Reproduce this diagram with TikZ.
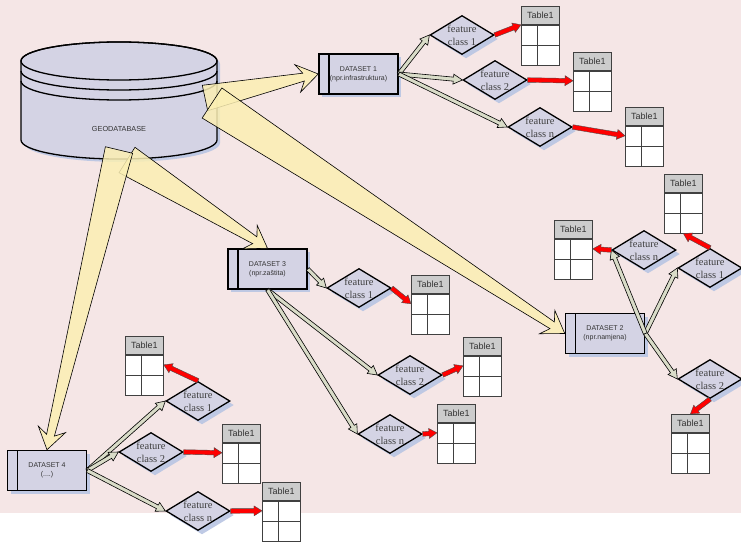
\documentclass[tikz,border=0pt]{standalone}
\usepackage{fontspec}
\setmainfont{Liberation Serif}
\setsansfont{Liberation Sans}
\usetikzlibrary{shapes.geometric,calc,shadows}

\definecolor{pozadina}{HTML}{F5E6E6}
\definecolor{lavanda}{HTML}{D4D3E4}
\definecolor{sjena}{HTML}{B9C5E3}
\definecolor{zuta}{HTML}{FBEFB3}
\definecolor{sivozelena}{HTML}{D9DCC8}
\definecolor{zaglavlje}{HTML}{CCCCCC}

\tikzset{
  dataset/.style={draw, line width=1.5pt, fill=lavanda, minimum width=79pt,
    minimum height=40pt, inner sep=0pt, align=center, text=black!80,
    font=\sffamily\fontsize{7}{9.3}\selectfont,
    drop shadow={shadow xshift=3pt, shadow yshift=-3pt, fill=sjena, opacity=.9},
    path picture={\draw[line width=1.5pt]
      ([xshift=10pt]path picture bounding box.north west) --
      ([xshift=10pt]path picture bounding box.south west);}},
  fclass/.style={diamond, draw, line width=1.3pt, fill=lavanda, minimum width=64pt,
    minimum height=39pt, inner sep=0pt,
    drop shadow={shadow xshift=4pt, shadow yshift=-4pt, fill=sjena, opacity=.9}},
  fctext/.style={font=\fontsize{10.5}{13}\selectfont, text=black!75, align=center},
  tabhead/.style={draw=black!75, line width=.8pt, fill=zaglavlje, minimum width=38pt,
    minimum height=18pt, inner sep=0pt, text=black!80,
    font=\sffamily\fontsize{9}{10}\selectfont},
  tabbody/.style={draw=black!75, line width=.8pt, fill=white, minimum width=38pt,
    minimum height=40pt, inner sep=0pt},
  yellowarrow/.style={draw, line width=.6pt, fill=zuta, fill opacity=.85},
  grayarrow/.style={draw, line width=.6pt, fill=sivozelena},
  redarrow/.style={draw=black!70, line width=.4pt, fill=red},
}

% tablica: ime, gornji lijevi kut
\newcommand\tabela[2]{%
  \node[tabhead, anchor=north west] (#1) at (#2) {Table1};
  \node[tabbody, anchor=north] (#1b) at (#1.south) {};
  \draw[draw=black!75, line width=.8pt] (#1b.west) -- (#1b.east)
    ([xshift=16pt]#1b.north west) -- ([xshift=16pt]#1b.south west);
  \coordinate (#1w) at ($(#1b.north west)+(0,10)$);
  \coordinate (#1e) at ($(#1b.north east)+(0,10)$);
}

% strelica: stil, od, do, pola osovine, pola glave, duzina glave
\newcommand\blok[6]{%
  \coordinate (vrat) at ($(#3)!#6!(#2)$);
  \draw[#1] ($(#2)!#4!90:(#3)$) -- ($(vrat)!#4!90:(#3)$) -- ($(vrat)!#5!90:(#3)$)
    -- (#3) -- ($(vrat)!#5!-90:(#3)$) -- ($(vrat)!#4!-90:(#3)$)
    -- ($(#2)!#4!-90:(#3)$) -- cycle;
}
\newcommand\sivastr[2]{\blok{grayarrow}{#1}{#2}{2pt}{5pt}{9pt}}
\newcommand\crvenastr[2]{\blok{redarrow}{#1}{#2}{2.3pt}{5pt}{8pt}}

% debela zuta strelica: od, do, pola sirine baze
\newcommand\zutastr[3]{%
  \coordinate (vrat) at ($(#2)!15pt!(#1)$);
  \coordinate (krilo) at ($(#2)!21pt!(#1)$);
  \draw[yellowarrow] ($(#1)!#3!90:(#2)$) -- ($(vrat)!4pt!90:(#2)$)
    -- ($(krilo)!14pt!90:(#2)$) -- (#2) -- ($(krilo)!14pt!-90:(#2)$)
    -- ($(vrat)!4pt!-90:(#2)$) -- ($(#1)!#3!-90:(#2)$) -- cycle;
}

\begin{document}
\begin{tikzpicture}[x=1pt,y=-1pt]
\useasboundingbox (0,0) rectangle (741,541);
\fill[white] (0,0) rectangle (741,541);
\fill[pozadina] (0,0) rectangle (741,513);

% geodatabase
\fill[sjena, opacity=.9, shift={(3,3)}] (21,61) -- (21,140)
  arc[start angle=180, end angle=360, x radius=98pt, y radius=19pt] -- (217,61)
  arc[start angle=0, end angle=180, x radius=98pt, y radius=19pt] -- cycle;
\draw[line width=1.3pt, fill=lavanda] (21,61) -- (21,140)
  arc[start angle=180, end angle=360, x radius=98pt, y radius=19pt] -- (217,61)
  arc[start angle=0, end angle=180, x radius=98pt, y radius=19pt] -- cycle;
\draw[line width=1.3pt] (119,61) ellipse[x radius=98pt, y radius=19pt];
\draw[line width=1.3pt] (21,71) arc[start angle=180, end angle=360, x radius=98pt, y radius=19pt];
\draw[line width=1.3pt] (21,81) arc[start angle=180, end angle=360, x radius=98pt, y radius=19pt];
\node[font=\sffamily\fontsize{7.3}{9}\selectfont, text=black!80] (geo) at (119,129) {GEODATABASE};
\coordinate (baza1) at (205,98);
\coordinate (baza2) at (212,103);
\coordinate (baza3) at (127,160);
\coordinate (baza4) at (119,150);

% datasets
\node[dataset] (d1) at (358.5,74) {DATASET 1\\(npr.infrastruktura)};
\node[dataset] (d2) at (605,333.5) {DATASET 2\\(npr.namjena)};
\node[dataset] (d3) at (267.5,269) {DATASET 3\\(npr.zaštita)};
\node[dataset] (d4) at (47,470.5) {DATASET 4\\(....)};

\zutastr{baza1}{d1.west}{13pt}
\zutastr{baza2}{d2.west}{18pt}
\zutastr{baza3}{d3.north}{15pt}
\zutastr{baza4}{d4.north}{14pt}

% feature classes
\foreach \ime/\x/\y/\br in {f11/462/35/1, f12/495/80/2, f1n/540/127/n,
    f31/359/288/1, f32/410/375/2, f3n/390/434/n,
    f2n/644/250/n, f21/710/268/1, f22/710/379/2,
    f41/198/401/1, f42/151/452/2, f4n/198/511/n}
  {\node[fclass, label={[fctext]center:{feature\\class \br}}] (\ime) at (\x,\y) {};}

% tablice
\foreach \ime/\x/\y in {t11/521/6, t12/573/52, t1n/625/107,
    t31/411/275, t32/463/337, t3n/437/404,
    t2n/554/220, t21/664/174, t22/671/414,
    t41/125/336, t42/222/424, t4n/262/482}
  {\tabela{\ime}{\x,\y}}

% dataset -> feature class
\foreach \od/\ka in {d1.east/f11.west, d1.east/f12.west, d1.east/f1n.west,
    d3.east/f31.west, d3.south/f32.west, d3.south/f3n.west,
    d2.east/f21.west, d2.east/f22.west, d2.east/f2n.west,
    d4.east/f41.west, d4.east/f42.west, d4.east/f4n.west}
  {\sivastr{\od}{\ka}}

% feature class -> tablica
\foreach \od/\ka in {f11.east/t11.south west, f12.east/t12w, f1n.east/t1nw,
    f31.east/t31w, f32.east/t32w, f3n.east/t3nw,
    f2n.west/t2ne, f21.north/t21b.south, f22.south/t22.north,
    f41.north/t41e, f42.east/t42w, f4n.east/t4nw}
  {\crvenastr{\od}{\ka}}
\end{tikzpicture}
\end{document}
